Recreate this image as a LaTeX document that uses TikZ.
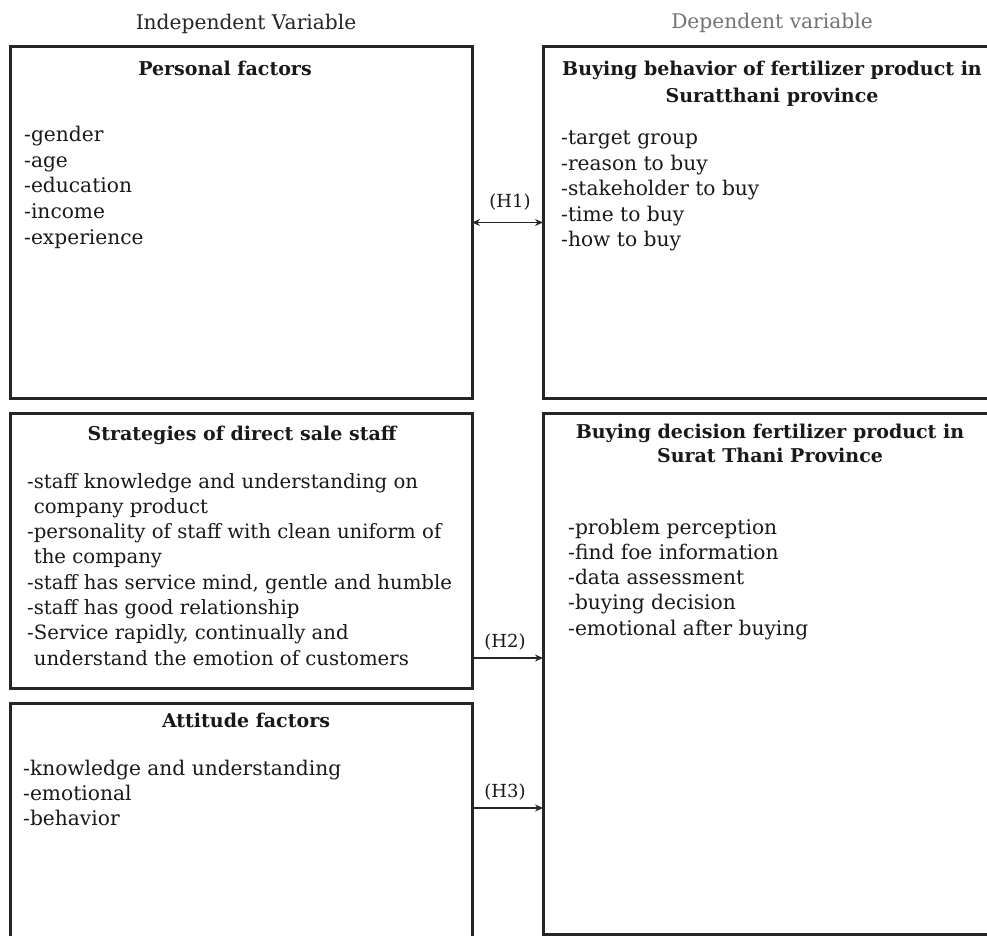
\documentclass[tikz,border=0pt]{standalone}
\usepackage{fontspec}
\setmainfont{DejaVu Serif}
\usetikzlibrary{arrows.meta}
\begin{document}
\begin{tikzpicture}[x=1pt,y=-1pt,
  box/.style={draw=black!85, line width=3pt, inner sep=0pt, outer sep=0pt, rectangle},
  item/.style={anchor=base west, inner sep=0pt, font=\fontsize{20.2}{24}\selectfont, text=black!90},
  sitem/.style={item, font=\fontsize{19.7}{24}\selectfont},
  ttl/.style={anchor=base, inner sep=0pt, font=\fontsize{19}{22}\selectfont\bfseries, text=black!90},
  hdr/.style={anchor=base, inner sep=0pt, font=\fontsize{20.2}{24}\selectfont},
  hlab/.style={inner sep=0pt, font=\fontsize{18}{20}\selectfont, text=black!90},
  conn/.style={line width=1.4pt, draw=black!85, -{Stealth[length=8pt,width=7pt]}}
]
\useasboundingbox (0,0) rectangle (987,936);
\clip (0,0) rectangle (987,936);
\fill[white] (0,0) rectangle (987,936);

% boxes
\node[box, minimum width=462pt, minimum height=351pt] (pf) at (241,222.5) {};
\node[box, minimum width=462pt, minimum height=275pt] (st) at (241,550.5) {};
\node[box, minimum width=462pt, minimum height=257pt] (at) at (241,831.5) {};
\node[box, minimum width=456pt, minimum height=351pt] (bb) at (771,222.5) {};
\node[box, minimum width=456pt, minimum height=521pt] (bd) at (771,673.5) {};

% headers
\node[hdr, text=black!85] (indep) at (246,30) {Independent Variable};
\node[hdr, text=black!55] (dep) at (772,29) {Dependent variable};

% titles
\node[ttl] (pft) at (225,76) {Personal factors};
\node[ttl] (bbt1) at (772,76) {Buying behavior of fertilizer product in};
\node[ttl] (bbt2) at (772,102.5) {Suratthani province};
\node[ttl] (stt) at (242,440) {Strategies of direct sale staff};
\node[ttl] (att) at (246,727) {Attitude factors};
\node[ttl] (bdt1) at (770,438) {Buying decision fertilizer product in};
\node[ttl] (bdt2) at (770,462) {Surat Thani Province};

% items
\foreach \t [count=\i] in {-gender,-age,-education,-income,-experience}
  \node[item] (pfi\i) at (24,{142+25.5*(\i-1)}) {\t};
\foreach \t [count=\i] in {-target group,-reason to buy,-stakeholder to buy,-time to buy,-how to buy}
  \node[item] (bbi\i) at (561,{145+25.4*(\i-1)}) {\t};
\foreach \t [count=\i] in {-staff knowledge and understanding on,
    \hphantom{-}company product,
    -personality of staff with clean uniform of,
    \hphantom{-}the company,
    {-staff has service mind, gentle and humble},
    -staff has good relationship,
    {-Service rapidly, continually and},
    \hphantom{-}understand the emotion of customers}
  \node[sitem] (sti\i) at (27,{488+25.3*(\i-1)}) {\t};
\foreach \t [count=\i] in {-knowledge and understanding,-emotional,-behavior}
  \node[item] (ati\i) at (23,{775+25.3*(\i-1)}) {\t};
\foreach \t [count=\i] in {-problem perception,-find foe information,-data assessment,-buying decision,-emotional after buying}
  \node[item] (bdi\i) at (568,{534+25.3*(\i-1)}) {\t};

% connectors
\coordinate (h2) at (500,658);
\coordinate (h3) at (500,808);
\draw[conn, {Stealth[length=8pt,width=7pt]}-{Stealth[length=8pt,width=7pt]}] (pf.east) -- (bb.west);
\draw[conn] (st.east |- h2) -- (bd.west |- h2);
\draw[conn] (at.east |- h3) -- (bd.west |- h3);

\node[hlab] (h1l) at (510,202) {(H1)};
\node[hlab] (h2l) at (505,642) {(H2)};
\node[hlab] (h3l) at (505,792) {(H3)};
\end{tikzpicture}
\end{document}
